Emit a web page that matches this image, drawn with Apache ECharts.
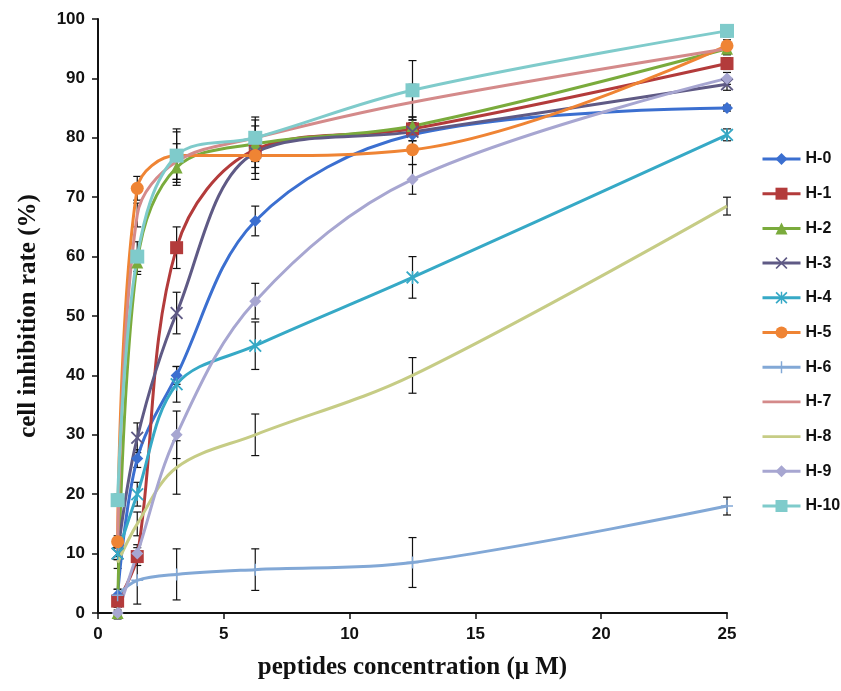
<!DOCTYPE html>
<html><head><meta charset="utf-8">
<script src="https://cdn.jsdelivr.net/npm/echarts@6/dist/echarts.min.js"></script>
<style>html,body{margin:0;padding:0;background:#fff}#c{width:841px;height:691px}</style>
</head><body><div id="c"></div>
<script>
const xValues = [0.78, 1.56, 3.125, 6.25, 12.5, 25];
const seriesNames = ['H-0','H-1','H-2','H-3','H-4','H-5','H-6','H-7','H-8','H-9','H-10'];
const H0 = [3, 26, 40, 66, 80.5, 85];
const H1 = [2, 9.5, 61.5, 78, 81.5, 92.5];
const H2 = [0, 59, 75, 79, 82, 95];
const H3 = [10, 29.5, 50.5, 77.5, 81, 89];
const H4 = [10, 20, 38.5, 45, 56.5, 80.5];
const H5 = [12, 71.5, 77, 77, 78, 95.5];
const H6 = [3, 5.5, 6.5, 7.3, 8.5, 18];
const H7 = [10, 67, 76, 80, 86, 95];
const H8 = [8.5, 15, 24.5, 30, 40, 68.5];
const H9 = [0, 10, 30, 52.5, 73, 90];
const H10 = [19, 60, 77, 80, 88, 98];
const E0 = [1, 1.5, 1.5, 2.5, 2, 0.5];
const E1 = [1, 1.5, 3.5, 3, 2, 1];
const E2 = [0.5, 2, 3, 3, 1.5, 1];
const E3 = [1, 2.5, 3.5, 3.5, 1.5, 1];
const E4 = [1, 2, 3, 4, 3.5, 1];
const E5 = [1, 2, 4, 4, 2.5, 1];
const E6 = [1, 4, 4.3, 3.5, 4.2, 1.5];
const E7 = [1, 2, 3, 3, 3, 1];
const E8 = [1, 2, 4.5, 3.5, 3, 1.5];
const E9 = [1, 1.5, 4, 3, 2.5, 1];
const E10 = [1, 2.5, 4.5, 3.5, 5, 1];
const xTicks = [0, 5, 10, 15, 20, 25];
const yTicks = [0, 10, 20, 30, 40, 50, 60, 70, 80, 90, 100];

const values = [H0,H1,H2,H3,H4,H5,H6,H7,H8,H9,H10];
const errs = [E0,E1,E2,E3,E4,E5,E6,E7,E8,E9,E10];
const colors = ['#3b6fd0','#b33b3b','#7aab3c','#5f5a85','#36a9c6','#ef8434','#82a8d6','#d48a8a','#c6cc85','#a7a6d1','#7fcbcb'];
const X = 'path://M0,1L1,0L5,4L9,0L10,1L6,5L10,9L9,10L5,6L1,10L0,9L4,5Z';
const AST = 'path://M0,1L1,0L5,4L9,0L10,1L6,5L10,9L9,10L5,6L1,10L0,9L4,5ZM4.4,0L5.6,0L5.6,10L4.4,10Z';
const PLUS = 'path://M4.4,0L5.6,0L5.6,10L4.4,10ZM0,4.4L10,4.4L10,5.6L0,5.6Z';
const symbols = ['diamond','rect','triangle',X,AST,'circle',PLUS,'none','none','diamond','rect'];
const sizes = [12,13,12,13,13,13,12,0,0,12,14];

const series = [];
values.forEach((v, i) => {
  series.push({
    type: 'custom', name: 'err' + i, silent: true, z: 1,
    data: xValues.map((x, j) => [x, v[j] - errs[i][j], v[j] + errs[i][j]]),
    renderItem: function (params, api) {
      const lo = api.coord([api.value(0), api.value(1)]);
      const hi = api.coord([api.value(0), api.value(2)]);
      const w = 4;
      const st = { stroke: '#111', lineWidth: 1.2 };
      return { type: 'group', children: [
        { type: 'line', shape: { x1: lo[0], y1: lo[1], x2: hi[0], y2: hi[1] }, style: st },
        { type: 'line', shape: { x1: lo[0]-w, y1: lo[1], x2: lo[0]+w, y2: lo[1] }, style: st },
        { type: 'line', shape: { x1: hi[0]-w, y1: hi[1], x2: hi[0]+w, y2: hi[1] }, style: st }
      ]};
    }
  });
});
values.forEach((v, i) => {
  series.push({
    type: 'line', name: seriesNames[i], smooth: 0.35, z: 3,
    data: xValues.map((x, j) => [x, v[j]]),
    symbol: symbols[i], symbolSize: sizes[i], showSymbol: symbols[i] !== 'none',
    lineStyle: { color: colors[i], width: 3 },
    itemStyle: { color: colors[i] }
  });
});

const legendData = seriesNames.map((n, i) => symbols[i] === 'none'
  ? { name: n, icon: 'path://M0,0L40,0L40,3L0,3Z' } : { name: n });

const chart = echarts.init(document.getElementById('c'));
chart.setOption({
  animation: false,
  backgroundColor: '#fff',
  grid: { left: 98, right: 114, top: 19, bottom: 78 },
  legend: {
    data: legendData, orient: 'vertical', left: 756, top: 146,
    itemWidth: 38, itemHeight: 15, itemGap: 18.7,
    lineStyle: { width: 3 },
    textStyle: { fontFamily: 'Liberation Sans, Arial', fontWeight: 'bold', fontSize: 16, color: '#111' }
  },
  xAxis: {
    type: 'value', min: 0, max: 25, interval: 5,
    name: 'peptides concentration (\u03bc M)', nameLocation: 'middle', nameGap: 42,
    nameTextStyle: { fontFamily: 'Liberation Serif, Times New Roman', fontWeight: 'bold', fontSize: 25, color: '#111' },
    axisLine: { lineStyle: { color: '#111', width: 2 } },
    axisTick: { show: true, inside: false, length: 6, lineStyle: { color: '#111', width: 1.5 } },
    axisLabel: { fontFamily: 'Liberation Sans, Arial', fontWeight: 'bold', fontSize: 17, color: '#111', margin: 13 },
    splitLine: { show: false }
  },
  yAxis: {
    type: 'value', min: 0, max: 100, interval: 10,
    name: 'cell inhibition rate (%)', nameLocation: 'middle', nameGap: 57,
    nameTextStyle: { fontFamily: 'Liberation Serif, Times New Roman', fontWeight: 'bold', fontSize: 25, color: '#111' },
    axisLine: { show: true, lineStyle: { color: '#111', width: 2 } },
    axisTick: { show: true, inside: false, length: 6, lineStyle: { color: '#111', width: 1.5 } },
    axisLabel: { fontFamily: 'Liberation Sans, Arial', fontWeight: 'bold', fontSize: 17, color: '#111', margin: 13 },
    splitLine: { show: false }
  },
  series: series
});
</script></body></html>
